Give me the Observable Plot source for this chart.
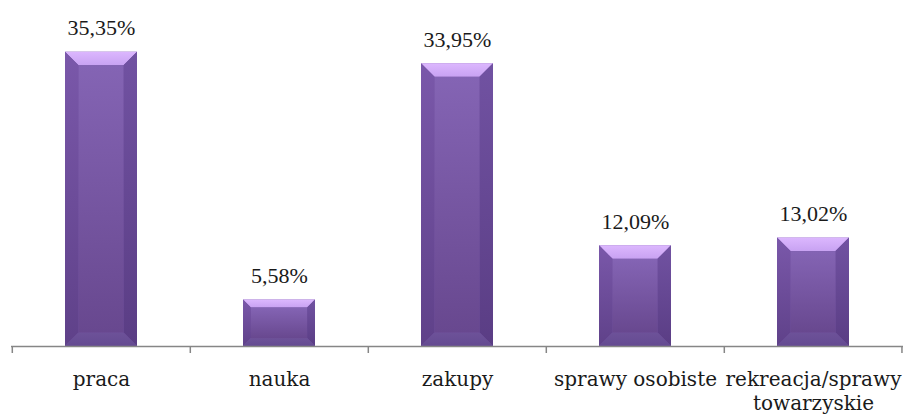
<!DOCTYPE html>
<html>
<head>
<meta charset="utf-8">
<script src="https://cdn.jsdelivr.net/npm/d3@7"></script>
<script src="https://cdn.jsdelivr.net/npm/@observablehq/plot@0.6"></script>
<style>
  html, body { margin: 0; padding: 0; background: #fff; font-family: "DejaVu Serif"; }
  #chart svg { display: block; }
</style>
</head>
<body>
<div id="chart"></div>
<script>
const categories = ["praca", "nauka", "zakupy", "sprawy osobiste", "rekreacja/sprawy towarzyskie"];
const tickLabels = ["praca", "nauka", "zakupy", "sprawy osobiste", "rekreacja/sprawy\ntowarzyskie"];
const values = [35.35, 5.58, 33.95, 12.09, 13.02];

const data = categories.map((c, i) => ({cat: c, val: values[i]}));
const fmt = v => v.toFixed(2).replace(".", ",") + "%";
const labelOf = new Map(categories.map((c, i) => [c, tickLabels[i]]));

const W = 904, H = 416, mL = 11, mR = 1;
const step = (W - mL - mR) / categories.length;
const NS = "http://www.w3.org/2000/svg";

function bevel(index, scales, vals, dims, ctx, next) {
  const g = next(index, scales, vals, dims, ctx);
  const rects = [...g.querySelectorAll("rect")];
  for (const r of rects) {
    const x = +r.getAttribute("x"), y = +r.getAttribute("y");
    const w = +r.getAttribute("width"), h = +r.getAttribute("height");
    const b = Math.min(13.5, h * 0.17);
    const poly = (pts, fill) => {
      const p = document.createElementNS(NS, "polygon");
      p.setAttribute("points", pts.map(q => q.join(",")).join(" "));
      p.setAttribute("fill", fill);
      g.appendChild(p);
    };
    poly([[x, y], [x + w, y], [x + w - b, y + b], [x + b, y + b]], "url(#gTop)");
    poly([[x, y], [x + b, y + b], [x + b, y + h - b], [x, y + h]], "url(#gLeft)");
    poly([[x + w, y], [x + w - b, y + b], [x + w - b, y + h - b], [x + w, y + h]], "url(#gRight)");
    poly([[x, y + h], [x + b, y + h - b], [x + w - b, y + h - b], [x + w, y + h]], "url(#gBottom)");
    const f = document.createElementNS(NS, "rect");
    f.setAttribute("x", x + b); f.setAttribute("y", y + b);
    f.setAttribute("width", Math.max(0, w - 2 * b)); f.setAttribute("height", Math.max(0, h - 2 * b));
    f.setAttribute("fill", "url(#gFace)");
    g.appendChild(f);
  }
  return g;
}

const chart = Plot.plot({
  width: W,
  height: H,
  marginLeft: mL,
  marginRight: mR,
  marginTop: 13,
  marginBottom: 70,
  style: {fontFamily: "DejaVu Serif", fontSize: "20px", background: "#fff", color: "#000"},
  x: {domain: categories, paddingInner: 0.595, paddingOuter: 0.2975, label: null},
  y: {domain: [0, 40], axis: null},
  marks: [
    Plot.barY(data, {x: "cat", y: "val", fill: "#7050a0", render: bevel, style: "filter: url(#shadow)"}),
    Plot.ruleY([0], {stroke: "#868686", strokeWidth: 1.5}),
    Plot.ruleX(categories, {x: d => d, dx: -step / 2, y1: 0, y2: 0, insetBottom: -7, stroke: "#868686", strokeWidth: 1.5}),
    Plot.ruleX([categories[categories.length - 1]], {x: d => d, dx: step / 2 - 0.75, y1: 0, y2: 0, insetBottom: -7, stroke: "#868686", strokeWidth: 1.5}),
    Plot.text(data, {x: "cat", y: "val", text: d => fmt(d.val), dy: -17, lineAnchor: "bottom", fontSize: 22, fontFamily: "Liberation Serif", fill: "#1a1a1a"}),
    Plot.axisX({tickSize: 0, tickPadding: 22, fontSize: 20, fontFamily: "DejaVu Serif", tickFormat: d => labelOf.get(d), lineHeight: 1.2, fill: "#1a1a1a", label: null})
  ]
});

const defs = d3.create("svg:defs");
const lg = (id, stops, x2 = 0, y2 = 1) => {
  const g = defs.append("linearGradient").attr("id", id).attr("x1", 0).attr("y1", 0).attr("x2", x2).attr("y2", y2);
  stops.forEach(([o, c]) => g.append("stop").attr("offset", o).attr("stop-color", c));
};
lg("gTop", [[0, "#dcb7fe"], [1, "#c8a2f2"]]);
lg("gLeft", [[0, "#7a58aa"], [1, "#5f4189"]]);
lg("gRight", [[0, "#7152a2"], [1, "#5a3d84"]]);
lg("gBottom", [[0, "#6d5299"], [1, "#644a91"]]);
lg("gFace", [[0, "#8464b4"], [1, "#68488f"]]);
const flt = defs.append("filter").attr("id", "shadow").attr("x", "-20%").attr("y", "-10%").attr("width", "140%").attr("height", "130%");
flt.append("feDropShadow").attr("dx", 1).attr("dy", 3).attr("stdDeviation", 2.5).attr("flood-color", "#000").attr("flood-opacity", 0.3);
chart.insertBefore(defs.node(), chart.firstChild);

document.getElementById("chart").appendChild(chart);
</script>
</body>
</html>
